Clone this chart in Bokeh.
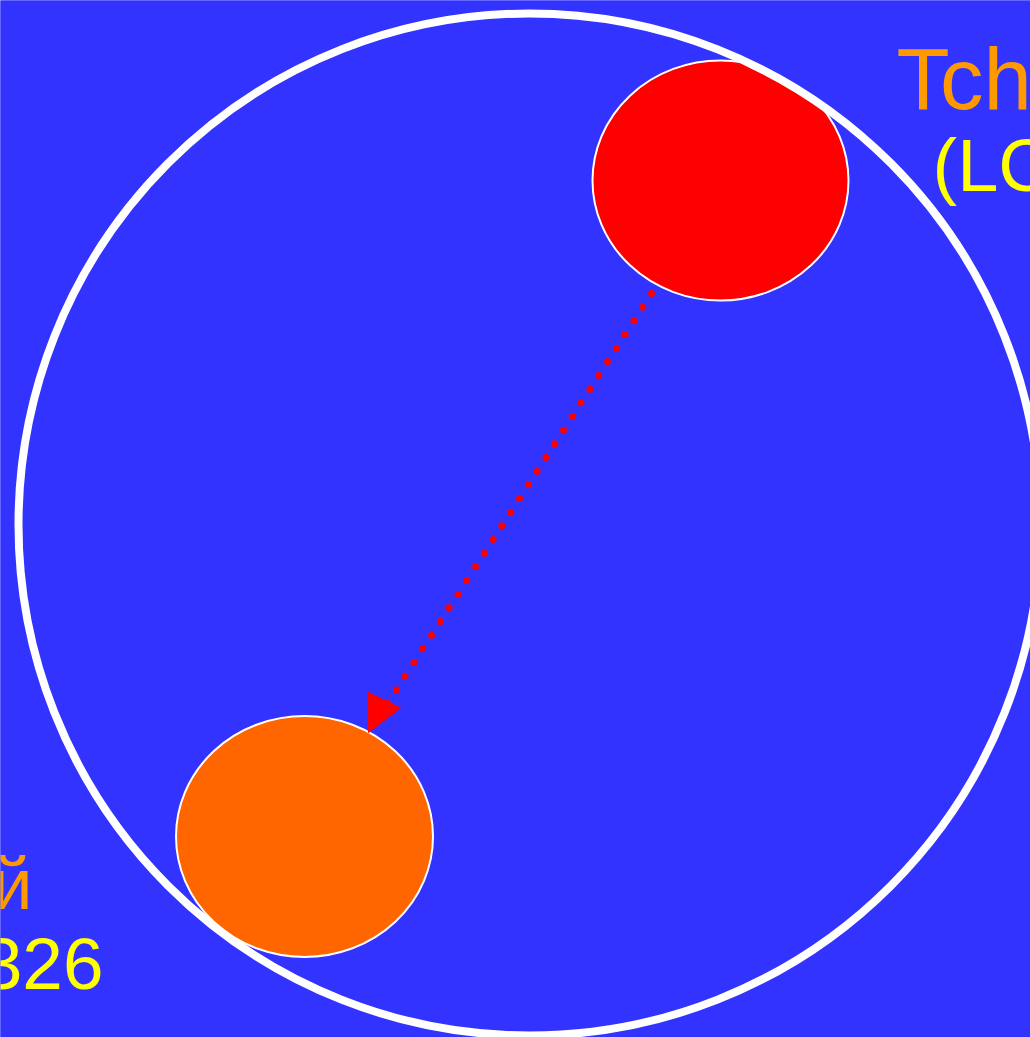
import numpy as np
from bokeh.plotting import figure
from bokeh.models import Range1d, Arrow, NormalHead
from bokeh.core.properties import value
from bokeh.embed import file_html
from bokeh.resources import INLINE

# ---- data (reference-pixel coordinate system) ----
node_names = ["source", "target"]
node_x = [720, 304]
node_y = [180, 836]
node_w = [256, 257]
node_h = [240, 241]
node_colors = ["#FF0000", "#FF6600"]

ring_center = (529, 524)
ring_radius = 511

labels = ["Tch", "(LC", "й", "326"]
label_x = [896, 932, 32, 103]
label_y = [78, 165, 883, 963]
label_colors = ["#FF9900", "#FFFF00", "#FF9900", "#FFFF00"]
label_sizes = ["87px", "74px", "72px", "73px"]
label_align = ["left", "left", "right", "right"]

arrow_start = (651, 293)
arrow_dots_end = (387, 703)
arrow_tip = (368, 732)
n_dots = 31

BLUE = "#3333FF"

p = figure(width=1030, height=1037, output_backend="svg", toolbar_location=None,
           x_range=Range1d(0, 1030), y_range=Range1d(1037, 0),
           x_axis_location=None, y_axis_location=None, min_border=0)
p.background_fill_color = BLUE
p.border_fill_color = BLUE
p.outline_line_color = None
p.xgrid.visible = False
p.ygrid.visible = False

# nodes
p.ellipse(x=node_x, y=node_y, width=node_w, height=node_h,
          fill_color=node_colors, line_color="white", line_width=2)

# mask outside the big ring
t = np.linspace(0, 2 * np.pi, 721)
hx = list(ring_center[0] + ring_radius * np.cos(t))
hy = list(ring_center[1] + ring_radius * np.sin(t))
ex = [-200, 1300, 1300, -200]
ey = [-200, -200, 1300, 1300]
p.multi_polygons(xs=[[[ex, hx]]], ys=[[[ey, hy]]], fill_color=BLUE, line_color=None)

# big ring
p.circle(x=[ring_center[0]], y=[ring_center[1]], radius=ring_radius,
         fill_color=None, line_color="white", line_width=8)

# dotted arrow
dx = np.linspace(arrow_start[0], arrow_dots_end[0], n_dots)
dy = np.linspace(arrow_start[1], arrow_dots_end[1], n_dots)
p.scatter(x=dx, y=dy, size=7, fill_color="#FF0000", line_color=None)
p.add_layout(Arrow(x_start=arrow_dots_end[0], y_start=arrow_dots_end[1] - 10,
                   x_end=arrow_tip[0], y_end=arrow_tip[1], line_alpha=0,
                   end=NormalHead(size=36, fill_color="#FF0000", line_color="#FF0000", line_width=1)))

# labels
for txt, x, y, c, s, a in zip(labels, label_x, label_y, label_colors, label_sizes, label_align):
    p.text(x=[x], y=[y], text=[txt], text_color=c, text_font=value("Liberation Sans"),
           text_font_size=s, text_align=a, text_baseline="alphabetic")

open("out.html", "w").write(file_html(p, INLINE))
